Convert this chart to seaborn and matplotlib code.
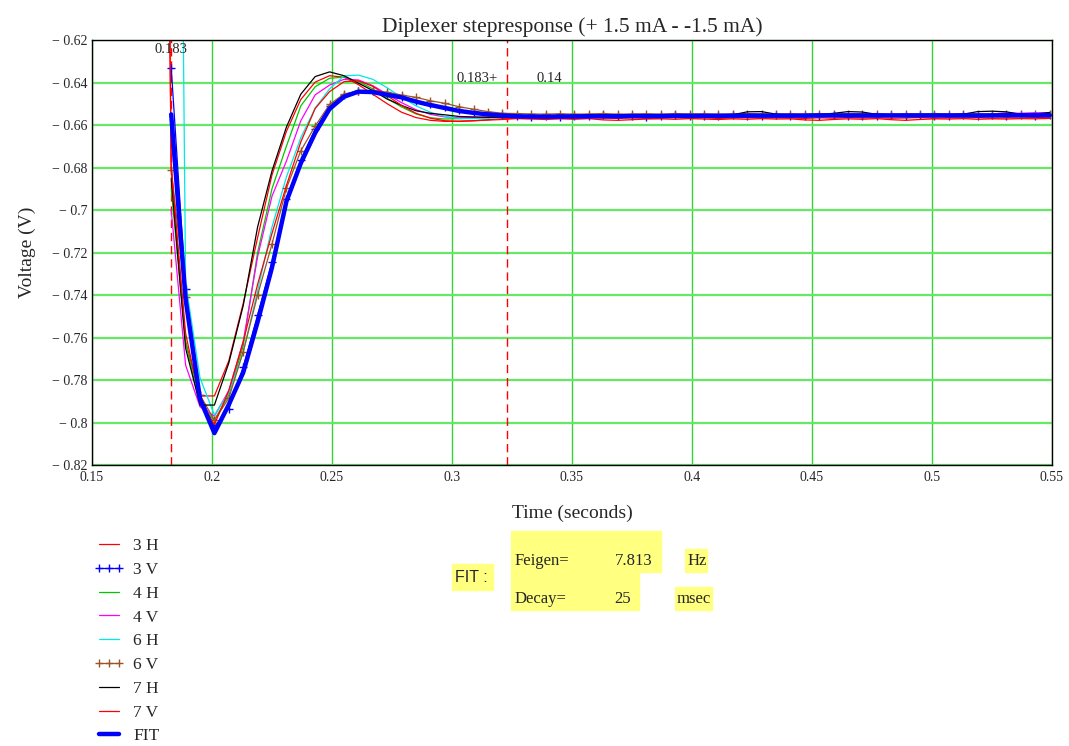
import numpy as np
import matplotlib
matplotlib.use("Agg")
import matplotlib.pyplot as plt
from matplotlib.patches import Rectangle
import seaborn as sns

# sample times (s): step at 0.183, one sample every 6 ms
t = np.round(0.183 + 0.006 * np.arange(62), 3)
t_pre = 0.177   # sample before the step (far above the axis) for some traces

fit_v = [-0.655, -0.742, -0.789, -0.805, -0.7916,
         -0.7765, -0.7527, -0.727, -0.696, -0.678,
         -0.6637, -0.6524, -0.6467, -0.6443, -0.6445,
         -0.6458, -0.647, -0.649, -0.6506, -0.652,
         -0.6534, -0.6543, -0.655, -0.6555, -0.6559,
         -0.6560, -0.6561, -0.6560, -0.6560, -0.6559, -0.6559, -0.6559, -0.6558, -0.6558, -0.6558,
         -0.6557, -0.6557, -0.6557, -0.6557, -0.6556, -0.6556, -0.6556, -0.6556, -0.6556, -0.6556,
         -0.6555, -0.6555, -0.6555, -0.6555, -0.6555, -0.6555, -0.6555, -0.6555, -0.6555, -0.6555,
         -0.6555, -0.6555, -0.6555, -0.6554, -0.6554, -0.6554, -0.6554]

v3v = [-0.633, -0.737, -0.787, -0.802, -0.7935,
       -0.774, -0.7495, -0.7245, -0.695, -0.6765,
       -0.662, -0.6512, -0.6458, -0.6438, -0.644,
       -0.6452, -0.6468, -0.6486, -0.6502, -0.6516,
       -0.653, -0.6541, -0.6549, -0.6555, -0.6558,
       -0.6560, -0.6557, -0.6561, -0.6556, -0.6559, -0.6555, -0.6558, -0.6556, -0.6561, -0.6557,
       -0.6555, -0.6559, -0.6556, -0.6558, -0.6554, -0.6557, -0.6559, -0.6555, -0.6557, -0.6556,
       -0.6559, -0.6554, -0.6557, -0.6556, -0.6558, -0.6555, -0.6557, -0.6554, -0.6558, -0.6556,
       -0.6555, -0.6557, -0.6554, -0.6556, -0.6555, -0.6557, -0.6554]

v6v = [-0.681, -0.741, -0.787, -0.799, -0.7885,
       -0.7667, -0.74, -0.716, -0.6898, -0.6721,
       -0.6605, -0.6503, -0.6454, -0.6441, -0.6438,
       -0.6446, -0.6459, -0.647, -0.6486, -0.6498,
       -0.6514, -0.6526, -0.6537, -0.6545, -0.6546,
       -0.6548, -0.6549, -0.6547, -0.6549, -0.6548, -0.6546, -0.6549, -0.6548, -0.6547, -0.6549,
       -0.6546, -0.6548, -0.6547, -0.6549, -0.6548, -0.6546, -0.6548, -0.6549, -0.6547, -0.6548,
       -0.6546, -0.6549, -0.6547, -0.6548, -0.6546, -0.6549, -0.6547, -0.6548, -0.6546, -0.6548,
       -0.6547, -0.6549, -0.6547, -0.6546, -0.6548, -0.6547, -0.6548]

v7h = [-0.685, -0.765, -0.7918, -0.7918, -0.772,
       -0.745, -0.708, -0.6816, -0.661, -0.6455,
       -0.6372, -0.635, -0.6368, -0.6403, -0.6438,
       -0.6478, -0.6508, -0.6533, -0.6545, -0.6552,
       -0.656, -0.6562, -0.6564, -0.6563, -0.656,
       -0.6558, -0.6556, -0.6555, -0.6554, -0.6553, -0.6552, -0.6553, -0.6554, -0.6553, -0.6552,
       -0.6553, -0.6553, -0.6552, -0.6553, -0.6552, -0.6538, -0.6537, -0.6549, -0.6552, -0.6553,
       -0.6551, -0.6545, -0.6537, -0.6539, -0.655, -0.6552, -0.6553, -0.6552, -0.6551, -0.6552,
       -0.6549, -0.6537, -0.6535, -0.6538, -0.655, -0.6548, -0.6541]

v3h = [0.0,
       -0.68, -0.762, -0.7875, -0.7875, -0.771,
       -0.744, -0.713, -0.6835, -0.663, -0.648,
       -0.6398, -0.6368, -0.6375, -0.641, -0.6455,
       -0.65, -0.654, -0.6565, -0.6578, -0.6583,
       -0.6582, -0.658, -0.6575, -0.657, -0.6568,
       -0.6567, -0.6569, -0.6566, -0.6568, -0.6565, -0.6567, -0.6569, -0.6566, -0.6568, -0.6567,
       -0.6565, -0.6568, -0.6566, -0.6569, -0.6567, -0.6565, -0.6568, -0.6566, -0.6567, -0.6569,
       -0.6566, -0.6568, -0.6565, -0.6567, -0.6566, -0.6568, -0.6567, -0.6565, -0.6568, -0.6566,
       -0.6567, -0.6565, -0.6568, -0.6566, -0.6567, -0.6565, -0.6566]

v7v = [0.0,
       -0.68, -0.758, -0.79, -0.801, -0.785,
       -0.762, -0.735, -0.711, -0.6885, -0.668,
       -0.6522, -0.6443, -0.6396, -0.6392, -0.6418,
       -0.6462, -0.6508, -0.6545, -0.6568, -0.658,
       -0.6583, -0.658, -0.6577, -0.6574, -0.657,
       -0.6572, -0.6574, -0.6571, -0.6573, -0.657, -0.6576, -0.6578, -0.6575, -0.6572, -0.6571,
       -0.6573, -0.657, -0.6572, -0.6574, -0.6571, -0.6573, -0.657, -0.6572, -0.6571, -0.6576,
       -0.6578, -0.6574, -0.6571, -0.6573, -0.657, -0.6575, -0.6578, -0.6574, -0.6571, -0.6572,
       -0.657, -0.6573, -0.6571, -0.6572, -0.657, -0.6571, -0.6569]

v4h = [-0.69, -0.762, -0.792, -0.7988, -0.787,
       -0.764, -0.72, -0.69, -0.67, -0.651,
       -0.642, -0.638, -0.6375, -0.6395, -0.643,
       -0.6475, -0.6515, -0.6548, -0.6566, -0.6572,
       -0.657, -0.6567, -0.6563, -0.656, -0.6559,
       -0.6558, -0.6557, -0.6559, -0.6557, -0.6558, -0.6556, -0.6558, -0.6557, -0.6559, -0.6556,
       -0.6558, -0.6557, -0.6556, -0.6558, -0.6557, -0.6559, -0.6556, -0.6558, -0.6557, -0.6556,
       -0.6558, -0.6557, -0.6559, -0.6556, -0.6557, -0.6558, -0.6556, -0.6557, -0.6559, -0.6556,
       -0.6558, -0.6557, -0.6556, -0.6558, -0.6557, -0.6556, -0.6557]

v4v = [-0.70, -0.773, -0.7926, -0.797, -0.785,
       -0.762, -0.722, -0.6935, -0.677, -0.658,
       -0.6458, -0.6412, -0.6385, -0.6388, -0.6415,
       -0.6455, -0.6495, -0.6528, -0.655, -0.6562,
       -0.6566, -0.6565, -0.6562, -0.656, -0.6558,
       -0.6557, -0.6556, -0.6558, -0.6555, -0.6557, -0.6556, -0.6558, -0.6555, -0.6556, -0.6557,
       -0.6555, -0.6558, -0.6556, -0.6557, -0.6555, -0.6556, -0.6557, -0.6555, -0.6556, -0.6558,
       -0.6556, -0.6555, -0.6557, -0.6556, -0.6555, -0.6557, -0.6556, -0.6555, -0.6556, -0.6557,
       -0.6555, -0.6556, -0.6548, -0.6543, -0.6545, -0.6542, -0.6544]

v6h = [0.0, -0.734, -0.779, -0.7965, -0.786,
       -0.767, -0.738, -0.708, -0.6845, -0.666,
       -0.652, -0.643, -0.6369, -0.6365, -0.6385,
       -0.6425, -0.647, -0.651, -0.654, -0.656,
       -0.657, -0.657, -0.6568, -0.6565, -0.6562,
       -0.6561, -0.656, -0.6559, -0.6561, -0.6558, -0.656, -0.6559, -0.6557, -0.6559, -0.6558,
       -0.656, -0.6557, -0.6559, -0.6558, -0.6556, -0.6558, -0.6559, -0.6557, -0.6558, -0.6556,
       -0.6558, -0.6559, -0.6557, -0.6558, -0.6556, -0.6557, -0.6558, -0.6556, -0.6558, -0.6557,
       -0.6556, -0.6558, -0.6557, -0.6556, -0.6557, -0.6556, -0.6557]

t_red = np.concatenate([[t_pre], t])

series = [
    ("3 H", t_red, v3h, "#ff0000", 0.9, None),
    ("3 V", t, v3v, "#0000ff", 0.9, "+"),
    ("4 H", t, v4h, "#00c800", 0.9, None),
    ("4 V", t, v4v, "#ff00ff", 0.9, None),
    ("6 H", t, v6h, "#00e8e8", 0.9, None),
    ("6 V", t, v6v, "#9a5526", 0.9, "+"),
    ("7 H", t, v7h, "#000000", 0.9, None),
    ("7 V", t_red, v7v, "#ff0000", 0.9, None),
    ("FIT", t, fit_v, "#0000ff", 3.2, None),
]

step_marks = [0.183, 0.323]
xticks = [0.15, 0.2, 0.25, 0.3, 0.35, 0.4, 0.45, 0.5, 0.55]
yticks = [-0.82, -0.8, -0.78, -0.76, -0.74, -0.72, -0.7, -0.68, -0.66, -0.64, -0.62]

sns.set_style("white")
plt.rcParams["font.family"] = ["Liberation Serif", "DejaVu Serif"]

W, H = 1069, 746
fig = plt.figure(figsize=(W / 100, H / 100), dpi=100)
ax = fig.add_axes([92 / W, 1 - 465 / H, 960 / W, 425 / H])

def px(x, y):
    return x / W, 1 - y / H

for lab, tt, vv, col, lw, mk in series:
    kw = {}
    if mk:
        kw = dict(marker=mk, markersize=6, markeredgecolor=col, mew=1)
    sns.lineplot(x=tt, y=vv, ax=ax, color=col, lw=lw, label=lab,
                 estimator=None, sort=False, **kw)

for xm in step_marks:
    ax.axvline(xm, color="red", lw=1, ls=(0, (6, 3.5)), zorder=1.5)

ax.text(step_marks[0], -0.6247, "0.183", ha="center", va="center", fontsize=10.5)
ax.text(0.3104, -0.6379, "0.183+", ha="center", va="center", fontsize=10.5)
ax.text(0.3404, -0.6379, "0.14", ha="center", va="center", fontsize=10.5)

ax.set_xlim(0.15, 0.55)
ax.set_ylim(-0.82, -0.62)
ax.set_xticks(xticks)
ax.set_yticks(yticks)
ax.set_xticklabels([f"{v:g}" for v in xticks])
ax.set_yticklabels([f"\u2212 {abs(v):g}" for v in yticks])
ax.tick_params(length=0, labelsize=10, pad=3)
ax.tick_params(axis="x", pad=4)
ax.set_axisbelow(True)
ax.xaxis.grid(True, color="#33d633", lw=1)
ax.yaxis.grid(True, color="#66e866", lw=1.6)
for s in ax.spines.values():
    s.set_color("black")
    s.set_linewidth(1)

ax.set_title("Diplexer stepresponse (+ 1.5 mA - -1.5 mA)", fontsize=15.5, pad=6)
ax.set_xlabel("Time (seconds)", fontsize=14, labelpad=15)
ax.set_ylabel("Voltage (V)", fontsize=14, labelpad=12)

handles, labels = ax.get_legend_handles_labels()
ax.get_legend().remove()
fig.legend(handles, labels, loc="upper left", bbox_to_anchor=px(94, 538),
           frameon=False, numpoints=3, fontsize=12.5, handlelength=1.75,
           handletextpad=0.5, labelspacing=0.44, borderpad=0, borderaxespad=0)

# yellow FIT result boxes
yel = "#ffff80"
for x0, y0, x1, y1 in [(452, 564, 493, 590), (511, 531, 661, 572),
                       (511, 572, 639, 610), (685, 549, 707, 572), (675, 587, 712, 610)]:
    fig.patches.append(Rectangle(px(x0, y1), (x1 - x0) / W, (y1 - y0) / H,
                                 transform=fig.transFigure, color=yel, zorder=0))
fig.text(*px(455, 578), "FIT :", family="Liberation Sans", fontsize=11.5, va="center")
fig.text(*px(515, 561), "Feigen=", fontsize=12, va="center")
fig.text(*px(652, 561), "7.813", fontsize=12, va="center", ha="right")
fig.text(*px(688, 561), "Hz", fontsize=12, va="center")
fig.text(*px(515, 599), "Decay=", fontsize=12, va="center")
fig.text(*px(614, 599), "25", fontsize=12, va="center")
fig.text(*px(677, 599), "msec", fontsize=12, va="center")

fig.savefig("out.png", dpi=100)
